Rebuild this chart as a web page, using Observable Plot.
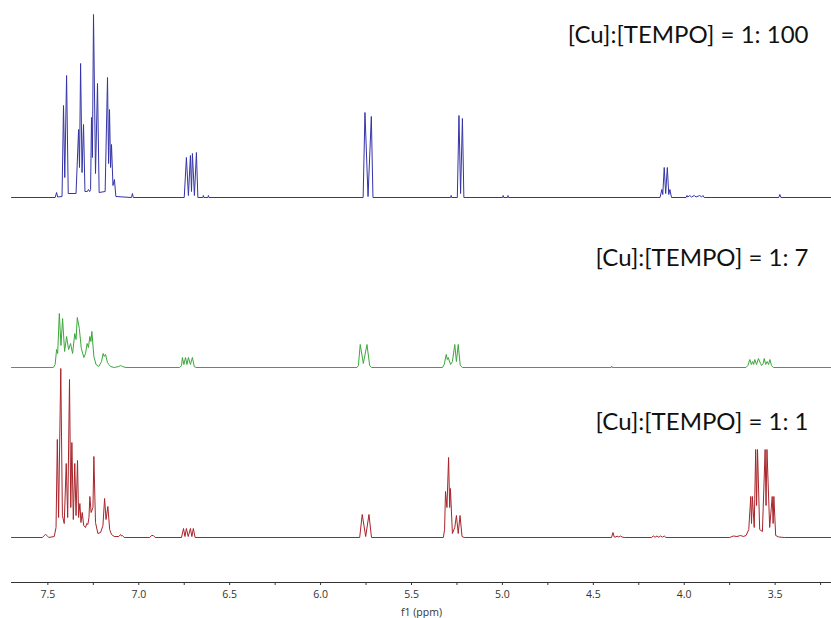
<!DOCTYPE html>
<html>
<head>
<meta charset="utf-8">
<script src="https://cdn.jsdelivr.net/npm/d3@7"></script>
<script src="https://cdn.jsdelivr.net/npm/@observablehq/plot@0.6"></script>
<style>
  html, body { margin: 0; padding: 0; background: #fff; }
  #chart { width: 831px; height: 618px; overflow: hidden; }
</style>
</head>
<body>
<div id="chart"></div>
<script>
// ---- data (ppm, intensity) vertices ----
const spectrumKeys = ["1:100", "1:7", "1:1"];
const spectrumLabels = ["[Cu]:[TEMPO] = 1: 100", "[Cu]:[TEMPO] = 1: 7", "[Cu]:[TEMPO] = 1: 1"];
const spectrumColors = ["#3434a8", "#3aa83a", "#a8242a"];

const majorTicks = [7.5, 7.0, 6.5, 6.0, 5.5, 5.0, 4.5, 4.0, 3.5];
const minorTicks = [7.25, 6.75, 6.25, 5.75, 5.25, 4.75, 4.25, 3.75, 3.25];

// [Cu]:[TEMPO] = 1:100 (blue)
const spectrum100 = [
  [7.70,0],[7.46,0],[7.452,5],[7.446,0.5],
  [7.422,1],[7.414,92],[7.407,20],[7.397,122],[7.388,4],
  [7.345,4],[7.331,68],[7.326,30],[7.320,134],[7.312,25],[7.304,73],[7.296,6],
  [7.283,6],[7.277,8],[7.270,6],
  [7.265,8],[7.260,80],[7.255,40],[7.249,183],[7.238,24],[7.227,114],[7.218,5],
  [7.185,6],[7.172,120],[7.166,34],[7.161,88],[7.155,30],[7.150,53],[7.142,12],[7.134,18],[7.126,1],
  [7.04,0],[7.035,4],[7.03,0],
  [6.75,0],[6.738,40],[6.727,2],[6.716,42],[6.710,6],[6.705,44],[6.694,2],[6.683,45],[6.675,0],
  [6.648,0],[6.645,2],[6.642,0],[6.620,0],[6.617,2],[6.614,0],
  [5.766,0],[5.756,85],[5.739,1],[5.721,81],[5.712,0],
  [5.285,0],[5.282,2],[5.279,0],
  [5.248,0],[5.239,82],[5.230,4],[5.220,79],[5.212,0],
  [4.999,0],[4.996,2],[4.993,0],[4.972,0],[4.969,2],[4.966,0],
  [4.133,0],[4.123,8],[4.118,3],[4.110,30],[4.102,4],[4.093,30],[4.085,3],[4.079,8],[4.070,0],
  [3.990,0],[3.985,2],[3.980,0.5],[3.970,2],[3.960,0.5],[3.945,2],[3.935,0.5],[3.915,2],[3.905,0.5],[3.897,2],[3.890,0],
  [3.480,0],[3.474,3],[3.468,0],
  [3.19,0]
];

// [Cu]:[TEMPO] = 1:7 (green)
const spectrum7 = [
  [7.70,0],[7.47,0],[7.460,3],[7.452,18],[7.446,14],[7.437,54],[7.428,22],[7.419,49],[7.408,16],
  [7.397,31],[7.386,18],[7.375,24],[7.364,14],[7.352,34],[7.345,28],[7.338,50],[7.327,39],[7.316,19],
  [7.302,10],[7.293,14],[7.284,24],[7.277,20],[7.269,31],[7.263,26],[7.258,36],[7.247,11],[7.235,3],
  [7.220,1],[7.205,6],[7.196,14],[7.190,11],[7.183,13],[7.172,5],[7.165,3],[7.155,1],[7.135,0],
  [7.110,1],[7.100,2],[7.090,1],[7.070,0],
  [6.775,0],[6.765,2],[6.760,10],[6.752,3],[6.743,10],[6.735,3],[6.727,10],[6.716,3],[6.705,10],[6.695,1],[6.685,0],
  [5.800,0],[5.792,2],[5.782,23],[5.765,4],[5.745,23],[5.730,2],[5.720,0],
  [5.330,0],[5.320,3],[5.309,13],[5.303,8],[5.298,10],[5.285,3],[5.275,6],[5.262,23],[5.253,6],[5.243,23],[5.232,2],[5.220,0],
  [4.402,0],[4.399,1.5],[4.396,0],
  [3.660,0],[3.650,2],[3.639,8],[3.631,3],[3.624,6],[3.618,3],[3.612,8],[3.602,3],[3.592,9],[3.580,4],[3.575,2],
  [3.566,4],[3.560,9],[3.552,3],[3.544,6],[3.536,3],[3.529,8],[3.520,2],[3.510,0],
  [3.19,0]
];

// [Cu]:[TEMPO] = 1:1 (red)
const spectrum1 = [
  [7.70,0],[7.530,0],[7.520,2],[7.513,3],[7.505,2],[7.495,0],
  [7.465,1],[7.455,10],[7.448,98],[7.441,20],[7.429,169],[7.420,22],[7.410,14],[7.399,74],[7.391,20],
  [7.381,158],[7.374,30],[7.368,95],[7.360,18],[7.352,74],[7.345,22],[7.337,77],[7.331,20],[7.324,34],
  [7.318,15],[7.311,25],[7.303,12],[7.293,10],[7.286,14],[7.280,13],[7.274,20],[7.269,41],[7.262,25],
  [7.252,30],[7.247,81],[7.238,15],[7.225,4],[7.210,5],[7.197,12],[7.188,39],[7.180,18],[7.170,31],
  [7.160,8],[7.150,3],[7.135,1],[7.110,1],[7.100,3],[7.095,1.5],[7.090,2],[7.080,0],
  [6.940,0],[6.930,2],[6.920,2],[6.910,0],
  [6.765,0],[6.754,9],[6.746,1],[6.738,9],[6.728,1],[6.716,9],[6.708,1],[6.700,9],[6.690,0],
  [5.785,0],[5.771,23],[5.752,1],[5.734,23],[5.720,0],
  [5.325,0],[5.318,8],[5.313,46],[5.305,30],[5.296,80],[5.290,30],[5.286,49],[5.275,4],[5.262,10],
  [5.253,22],[5.243,4],[5.233,22],[5.222,1],[5.210,0],
  [4.400,0],[4.392,5],[4.385,0.5],[4.375,0.5],[4.370,1.5],[4.360,0.5],[4.350,1.5],[4.342,0.5],[4.330,0],
  [4.180,0],[4.170,1.5],[4.160,0.3],[4.150,1.5],[4.140,0.3],[4.130,1.5],[4.120,0.3],[4.110,1.5],[4.100,0],
  [3.750,0],[3.730,1.5],[3.710,1],[3.690,2],[3.675,1],
  [3.660,2],[3.645,8],[3.634,41],[3.630,14],[3.625,41],[3.615,10],[3.607,88],[3.602,32],[3.597,88],
  [3.585,8],[3.570,6],[3.555,88],[3.550,32],[3.545,88],[3.530,10],[3.516,41],[3.511,14],[3.507,41],
  [3.497,2],[3.480,0.5],[3.450,0],[3.19,0]
];

const spectra = [spectrum100, spectrum7, spectrum1];
const rows = spectra.flatMap((s, k) => s.map(([ppm, i]) => ({key: spectrumKeys[k], ppm, i})));
const labelRows = spectrumKeys.map((key, k) => ({key, text: spectrumLabels[k]}));

const labelDy = [-37, 16, 10];

const chart = Plot.plot({
  width: 831,
  height: 618,
  marginLeft: 11,
  marginRight: 0,
  marginTop: 72,
  marginBottom: 36,
  style: {fontFamily: "'Open Sans', sans-serif", fontSize: "10.5px", color: "#333", background: "#fff"},
  x: {
    domain: [7.70, 3.19],
    ticks: [...majorTicks, ...minorTicks],
    tickFormat: d => majorTicks.includes(d) ? d.toFixed(1) : "",
    tickSize: 3,
    tickPadding: 5,
    line: true,
    label: "f1 (ppm)",
    labelAnchor: "center",
    labelArrow: "none",
    labelOffset: 33
  },
  y: {domain: [-45, 125], axis: null},
  fy: {domain: spectrumKeys, axis: null, padding: 0},
  color: {domain: spectrumKeys, range: spectrumColors},
  marks: [
    Plot.line(rows, {x: "ppm", y: "i", fy: "key", z: "key", stroke: "key", strokeWidth: 1}),
    ...labelRows.map((r, k) => Plot.text([r], {
      fy: "key", text: "text", frameAnchor: "top-right", textAnchor: "end", lineAnchor: "middle",
      dx: -23, dy: labelDy[k], fontSize: 24, fontFamily: "Lato, sans-serif", fill: "#111"
    }))
  ]
});
document.getElementById("chart").appendChild(chart);
</script>
</body>
</html>
